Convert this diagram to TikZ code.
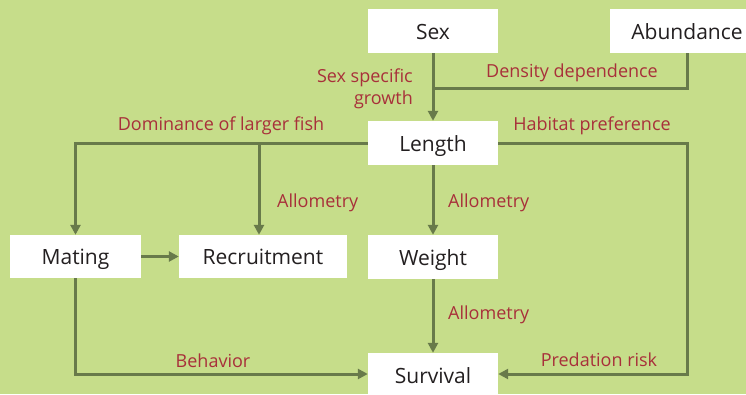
\documentclass[tikz,border=0pt]{standalone}
\usepackage{fontspec}
\setmainfont{Open Sans}
\usetikzlibrary{arrows.meta,positioning,calc}
\definecolor{bgGreen}{HTML}{C6DD8A}
\definecolor{linkGreen}{HTML}{687A4A}
\definecolor{labelRed}{HTML}{A8303A}
\definecolor{textDark}{HTML}{231F20}

\begin{document}
\begin{tikzpicture}[x=1pt,y=-1pt,>={Triangle[length=10pt,width=10pt]},
		box/.style={rectangle,fill=white,inner sep=0pt,minimum width=130pt,minimum height=44pt,
			text height=18pt,text depth=2pt,
			font=\fontsize{21}{24}\selectfont,text=textDark},
		link/.style={draw=linkGreen,line width=3pt},
		lbl/.style={font=\fontsize{18}{22}\selectfont,text=labelRed,inner sep=0pt,yshift=-2pt}]
		\fill[bgGreen] (0,0) rectangle (746,394);
		\useasboundingbox (0,0) rectangle (746,394);
		
		\node[box]  (sex)      at (433,31)    {Sex};
		\node[box,minimum width=154pt] (abund) at (687,31) {Abundance};
		\node[box]  (length)   at (433,143)   {Length};
		\node[box,minimum width=131pt,minimum height=43pt] (mating)  at (75.5,256.5) {Mating};
		\node[box,minimum width=168pt,minimum height=43pt] (recruit) at (263,256.5)  {Recruitment};
		\node[box]  (weight)   at (433,257)   {Weight};
		\node[box]  (survival) at (433,375)   {Survival};
		
		\coordinate (densj) at (433,88);
		\coordinate (domj)  at (259,143);
		\coordinate (riskc) at (687,374);
		
		% links
		\draw[link,->] (sex) -- (length);
		\draw[link] (abund.south) |- (densj);
		\draw[link,->] (length.west) -| (mating.north);
		\draw[link,->] (domj) -- (domj |- recruit.north);
		\draw[link,->] (length) -- (weight);
		\draw[link,->] (weight) -- (survival);
		\draw[link,->] (mating) -- (recruit);
		\draw[link,->] (mating.south) |- (survival.west |- riskc);
		\draw[link,->] (length.east) -| (riskc) -- (survival.east |- riskc);
		
		% labels
		\node[lbl,anchor=east,align=right] (sexlbl) at (413,87) {Sex specific\\growth};
		\node[lbl] (denslbl) at (572,71)  {Density dependence};
		\node[lbl] (domlbl)  at (221,124) {Dominance of larger fish};
		\node[lbl] (hablbl)  at (592,124) {Habitat preference};
		\node[lbl,anchor=west] (allo1) at (277,201) {Allometry};
		\node[lbl,anchor=west] (allo2) at (448,201) {Allometry};
		\node[lbl,anchor=west] (allo3) at (448,313) {Allometry};
		\node[lbl] (behlbl)  at (213,359) {Behavior};
		\node[lbl] (predlbl) at (599,358) {Predation risk};
\end{tikzpicture}
\end{document}
